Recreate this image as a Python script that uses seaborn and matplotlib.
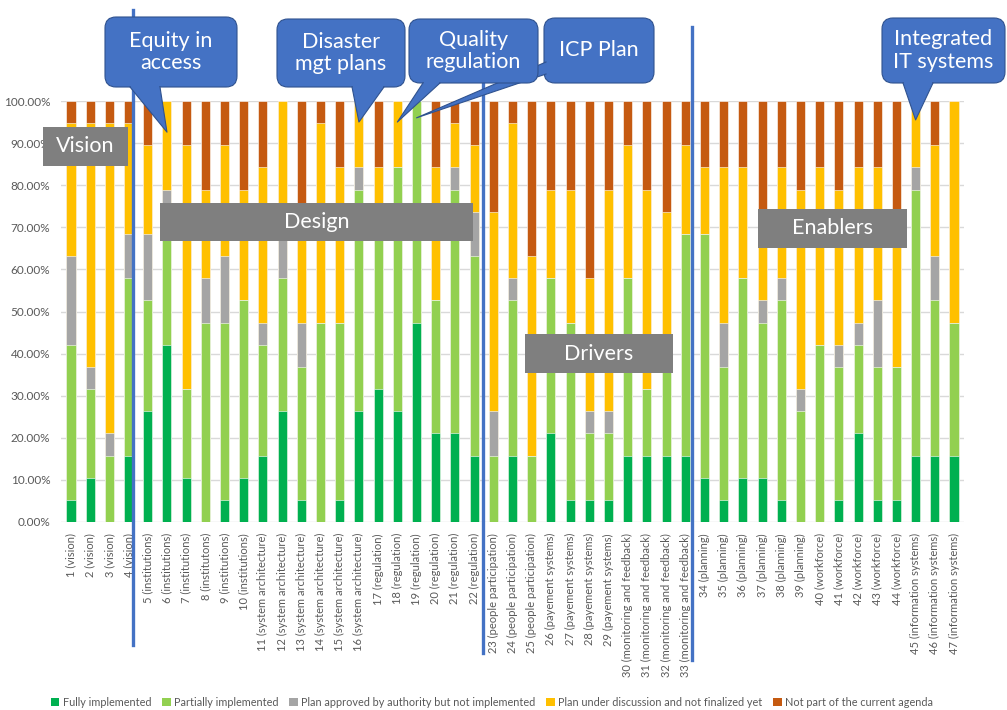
import numpy as np
import pandas as pd
import seaborn as sns
import matplotlib.pyplot as plt
from matplotlib.patches import Patch, Rectangle, FancyBboxPatch, Polygon
from matplotlib.lines import Line2D
from matplotlib.transforms import IdentityTransform

# Answers per item (counts out of 19 respondents) #############################

n_resp = 19

labels = [
    "1 (vision)", "2 (vision)", "3 (vision)", "4 (vision)",
    "5 (institutions)", "6 (institutions)", "7 (institutions)", "8 (institutons)",
    "9 (institutions)", "10 (institutions)",
    "11 (system architecture)", "12 (system architecture)", "13 (system architecture)",
    "14 (system architecture)", "15 (system architecture)", "16 (system architecture)",
    "17 (regulation)", "18 (regulation)", "19 (regulation)", "20 (regulation)",
    "21 (regulation)", "22 (regulation)",
    "23 (people participation)", "24 (people participation)", "25 (people participation)",
    "26 (payement systems)", "27 (payement systems)", "28 (payement systems)",
    "29 (payement systems)",
    "30 (monitoring and feedback)", "31 (monitoring and feedback)",
    "32 (monitoring and feedback)", "33 (monitoring and feedback)",
    "34 (planning)", "35 (planning)", "36 (planning)", "37 (planning)", "38 (planning)",
    "39 (planning)",
    "40 (workforce)", "41 (workforce)", "42 (workforce)", "43 (workforce)", "44 (workforce)",
    "45 (information systems)", "46 (information systems)", "47 (information systems)",
]

fully      = [1, 2, 0, 3, 5, 8, 2, 0, 1, 2, 3, 5, 1, 0, 1, 5, 6, 5, 9, 4, 4, 3,
              0, 3, 0, 4, 1, 1, 1, 3, 3, 3, 3, 2, 1, 2, 2, 1, 0, 0, 1, 4, 1, 1, 3, 3, 3]
partial    = [7, 4, 3, 8, 5, 6, 4, 9, 8, 8, 5, 6, 6, 9, 8, 10, 7, 11, 10, 6, 11, 9,
              3, 7, 3, 7, 8, 3, 3, 8, 3, 5, 10, 11, 6, 9, 7, 9, 5, 8, 6, 4, 6, 6, 12, 7, 6]
approved   = [4, 1, 1, 2, 3, 1, 0, 2, 3, 0, 1, 2, 2, 0, 0, 1, 0, 0, 0, 0, 1, 2,
              2, 1, 0, 0, 0, 1, 1, 0, 0, 0, 0, 0, 2, 0, 1, 1, 1, 0, 1, 1, 3, 0, 1, 2, 0]
discussion = [6, 11, 14, 5, 4, 4, 11, 4, 5, 5, 7, 6, 5, 9, 7, 3, 3, 3, 0, 6, 2, 3,
              9, 7, 9, 4, 6, 6, 10, 6, 9, 6, 4, 3, 7, 5, 3, 5, 9, 8, 7, 7, 6, 6, 3, 5, 10]
not_agenda = [1, 1, 1, 1, 2, 0, 2, 4, 2, 4, 3, 0, 5, 1, 3, 0, 3, 0, 0, 3, 1, 2,
              5, 1, 7, 4, 4, 8, 4, 2, 4, 5, 2, 3, 3, 3, 6, 3, 4, 3, 4, 3, 3, 6, 0, 2, 0]

categories = [
    "Fully implemented",
    "Partially implemented",
    "Plan approved by authority but not implemented",
    "Plan under discussion and not finalized yet",
    "Not part of the current agenda",
]
colors = ["#00B050", "#92D050", "#A5A5A5", "#FFC000", "#C55A11"]

df = pd.DataFrame({
    "item": labels,
    categories[0]: fully,
    categories[1]: partial,
    categories[2]: approved,
    categories[3]: discussion,
    categories[4]: not_agenda,
})

pct = df[categories].div(n_resp).mul(100)
cum = pct.cumsum(axis=1)
cum["item"] = df["item"]

# Figure ######################################################################

W, H = 1007, 710
plt.rcParams["font.family"] = ["Lato", "DejaVu Sans"]

fig = plt.figure(figsize=(W / 100, H / 100), dpi=100)
ax = fig.add_axes([61.4 / W, 1 - 522 / H, (963.6 - 61.4) / W, (522 - 101) / H])

# stacked bars: draw cumulative totals from the top layer down
for cat, col in reversed(list(zip(categories, colors))):
    sns.barplot(data=cum, x="item", y=cat, order=labels, color=col,
                saturation=1, width=0.47, edgecolor="white", linewidth=0.4, ax=ax)

ax.set_xlim(-0.5, len(labels) - 0.5)
ax.set_ylim(0, 100)
ax.set_yticks(np.arange(0, 101, 10))
ax.set_yticklabels([f"{v:.2f}%" for v in np.arange(0, 101, 10)])
ax.yaxis.grid(True, color="#D9D9D9", linewidth=1)
ax.set_axisbelow(True)
for s in ax.spines.values():
    s.set_visible(False)
ax.set_xlabel("")
ax.set_ylabel("")
ax.tick_params(axis="x", length=0, pad=8, labelsize=8, labelcolor="#595959", rotation=90)
ax.tick_params(axis="y", length=0, pad=8, labelsize=8.5, labelcolor="#595959")

handles = [Patch(facecolor=c, edgecolor="none", label=l) for l, c in zip(categories, colors)]
fig.legend(handles=handles, loc="center", bbox_to_anchor=(492 / W, 1 - 702 / H), ncol=5,
           frameon=False, fontsize=7.8, handlelength=0.8, handleheight=0.8,
           handletextpad=0.3, columnspacing=1.0, labelcolor="#595959")

# Overlays in pixel coordinates (y from top) ##################################

ident = IdentityTransform()
blue = "#4472C4"
blue_edge = "#2F528F"


def pix(x, y):
    return (x, H - y)


# section separators
for x, y0, y1 in [(133, 10, 645), (483, 75, 653), (692, 27, 660)]:
    fig.add_artist(Line2D([x, x], [H - y0, H - y1], color=blue, lw=2.4,
                          transform=ident, zorder=6))

# gray section boxes
for name, x0, y0, x1, y1 in [("Vision", 43, 127, 128, 166),
                             ("Design", 160, 203, 473, 241),
                             ("Drivers", 525, 334, 673, 373),
                             ("Enablers", 758, 209, 907, 248)]:
    fig.add_artist(Rectangle(pix(x0, y1), x1 - x0, y1 - y0, facecolor="#7F7F7F",
                             edgecolor="none", transform=ident, zorder=7))
    fig.text((x0 + x1) / 2, H - (y0 + y1) / 2, name, color="white", fontsize=15.5,
             ha="center", va="center", transform=ident, zorder=8)


def callout(x0, y0, x1, y1, text, base, tip, z):
    # tip given in data coords: (bar index, percent)
    tx, ty = ax.transData.transform(tip)
    (bx0, by0), (bx1, by1) = base
    pts = [(bx0, H - by0), (tx, ty), (bx1, H - by1)]
    fig.add_artist(Polygon(pts, closed=True, facecolor=blue, edgecolor="none",
                           transform=ident, zorder=z + 0.2))
    fig.add_artist(Line2D([p[0] for p in pts], [p[1] for p in pts], color=blue_edge,
                          lw=0.8, transform=ident, zorder=z + 0.3))
    fig.add_artist(FancyBboxPatch(pix(x0, y1), x1 - x0, y1 - y0,
                                  boxstyle="round,pad=0,rounding_size=11",
                                  facecolor=blue, edgecolor=blue_edge, lw=0.8,
                                  transform=ident, zorder=z))
    fig.add_artist(Polygon([(bx0 + 1, H - by0 + 4), (bx1 - 1, H - by1 + 4),
                            (bx1 - 1, H - by1 - 1), (bx0 + 1, H - by0 - 1)],
                           closed=True, facecolor=blue, edgecolor="none",
                           transform=ident, zorder=z + 0.25))
    fig.text((x0 + x1) / 2, H - (y0 + y1) / 2, text, color="white", fontsize=15.5,
             ha="center", va="center", linespacing=1.15, transform=ident, zorder=z + 0.5)


callout(544, 18, 654, 83, "ICP Plan", [(546, 62), (546, 74)], (18, 96), 9)
callout(105, 17, 237, 87, "Equity in\naccess", [(130, 87), (160, 87)], (5, 92.6), 10)
callout(277, 19, 405, 87, "Disaster\nmgt plans", [(352, 87), (384, 87)], (15, 95), 10)
callout(409, 19, 538, 83, "Quality\nregulation", [(423, 83), (440, 83)], (17, 95), 11)
callout(882, 18, 1005, 83, "Integrated\nIT systems", [(903, 83), (933, 83)], (44, 95.5), 10)

fig.savefig("out.png", dpi=100)
